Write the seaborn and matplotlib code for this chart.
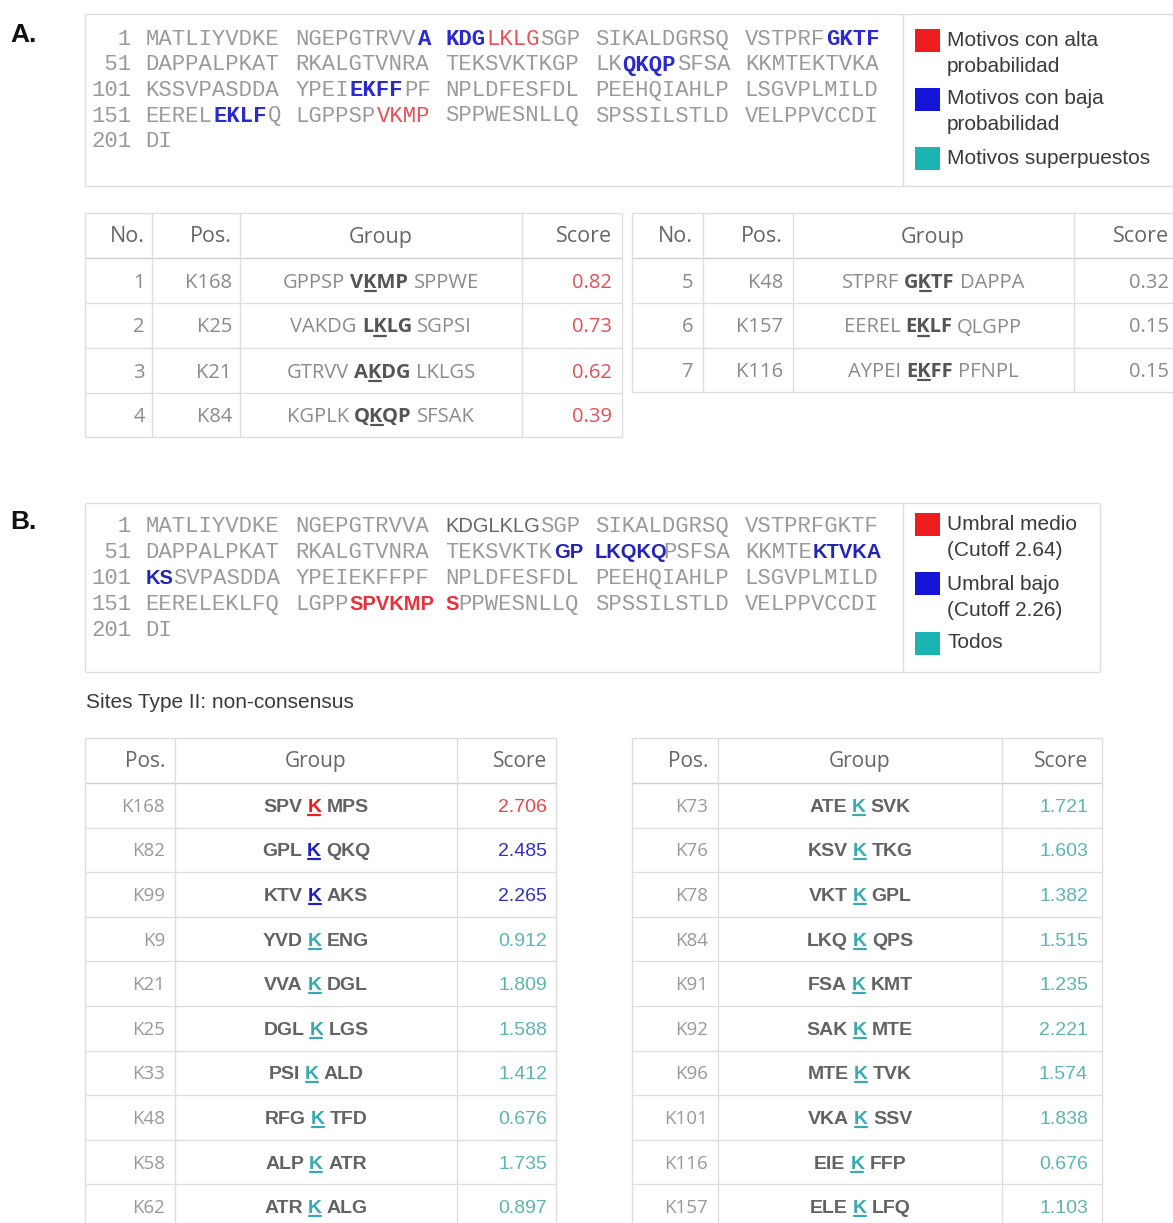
import matplotlib
matplotlib.use("Agg")
import matplotlib.pyplot as plt
import seaborn as sns
from matplotlib.patches import Rectangle

# ---------------- data ----------------
sequence = ("MATLIYVDKENGEPGTRVVAKDGLKLGSGPSIKALDGRSQVSTPRFGKTF"
            "DAPPALPKATRKALGTVNRATEKSVKTKGPLKQKQPSFSAKKMTEKTVKA"
            "KSSVPASDDAYPEIEKFFPFNPLDFESFDLPEEHQIAHLPLSGVPLMILD"
            "EERELEKLFQLGPPSPVKMPSPPWESNLLQSPSSILSTLDVELPPVCCDI"
            "DI")
# highlighted residues (1-based, inclusive)
a_highlights = [(20, 23, "low"), (24, 27, "high"), (47, 50, "low"), (83, 86, "low"),
                (115, 118, "low"), (156, 159, "low"), (167, 170, "high")]
b_highlights = [(21, 27, "dark"), (79, 85, "low"), (96, 102, "low"), (165, 171, "high")]

a_legend = ["Motivos con alta\nprobabilidad", "Motivos con baja\nprobabilidad", "Motivos superpuestos"]
b_cutoffs = [2.64, 2.26]
b_legend = [f"Umbral medio\n(Cutoff {b_cutoffs[0]:.2f})", f"Umbral bajo\n(Cutoff {b_cutoffs[1]:.2f})", "Todos"]

a_no = [1, 2, 3, 4, 5, 6, 7]
a_pos = ["K168", "K25", "K21", "K84", "K48", "K157", "K116"]
a_left = ["GPPSP", "VAKDG", "GTRVV", "KGPLK", "STPRF", "EEREL", "AYPEI"]
a_motif = ["VKMP", "LKLG", "AKDG", "QKQP", "GKTF", "EKLF", "EKFF"]
a_right = ["SPPWE", "SGPSI", "LKLGS", "SFSAK", "DAPPA", "QLGPP", "PFNPL"]
a_score = [0.82, 0.73, 0.62, 0.39, 0.32, 0.15, 0.15]
a_high_n = 4  # first rows in red

b1_pos = ["K168", "K82", "K99", "K9", "K21", "K25", "K33", "K48", "K58", "K62"]
b1_left = ["SPV", "GPL", "KTV", "YVD", "VVA", "DGL", "PSI", "RFG", "ALP", "ATR"]
b1_right = ["MPS", "QKQ", "AKS", "ENG", "DGL", "LGS", "ALD", "TFD", "ATR", "ALG"]
b1_score = [2.706, 2.485, 2.265, 0.912, 1.809, 1.588, 1.412, 0.676, 1.735, 0.897]

b2_pos = ["K73", "K76", "K78", "K84", "K91", "K92", "K96", "K101", "K116", "K157"]
b2_left = ["ATE", "KSV", "VKT", "LKQ", "FSA", "SAK", "MTE", "VKA", "EIE", "ELE"]
b2_right = ["SVK", "TKG", "GPL", "QPS", "KMT", "MTE", "TVK", "SSV", "FFP", "LFQ"]
b2_score = [1.721, 1.603, 1.382, 1.515, 1.235, 2.221, 1.574, 1.838, 0.676, 1.103]

# ---------------- style ----------------
sns.set_theme(style="white")
plt.rcParams['font.family'] = ['Liberation Sans', 'DejaVu Sans']

RED, BLUE, CYAN = "#ee1c1c", "#1414d8", "#1ab4b4"
SEQ_GRAY = "#9a9a9a"
GRID = "#dedede"
TXT = "#3a3a3a"

W, H = 1173, 1223
fig = plt.figure(figsize=(W / 100, H / 100), dpi=100)
ax = fig.add_axes([0, 0, 1, 1])
ax.set_xlim(0, W)
ax.set_ylim(H, 0)
ax.axis("off")
renderer = fig.canvas.get_renderer()


def tw(s, **kw):
    if not s:
        return 0.0
    t = ax.text(0, 0, s, **kw)
    w = t.get_window_extent(renderer).width
    t.remove()
    return w


def hline(x1, x2, y, c=GRID, lw=1.0):
    ax.plot([x1, x2], [y, y], color=c, lw=lw, solid_capstyle="butt")


def vline(x, y1, y2, c=GRID, lw=1.0):
    ax.plot([x, x], [y1, y2], color=c, lw=lw, solid_capstyle="butt")


# ---------------- panel labels ----------------
ax.text(10, 35, "A.", fontsize=19, fontweight="bold", color="#111", va="center")
ax.text(10, 522, "B.", fontsize=19, fontweight="bold", color="#111", va="center")

# ---------------- sequences ----------------
MONO = "Liberation Mono"
FS_MONO = 16.0
X0, CW = 91.0, 13.62


def style_at(pos, highlights):
    for a, b, s in highlights:
        if a <= pos <= b:
            return s
    return "n"


def draw_sequence(highlights, base_y, dy, smap):
    for li in range(0, len(sequence), 50):
        y = base_y + (li // 50) * dy
        ax.text(X0, y, f"{li + 1:>3}", fontfamily=MONO, fontsize=FS_MONO,
                color=SEQ_GRAY, va="baseline", ha="left")
        for b in range(5):
            start = li + b * 10
            if start >= len(sequence):
                break
            block = sequence[start:start + 10]
            i = 0
            while i < len(block):
                st = style_at(start + i + 1, highlights)
                j = i
                while j < len(block) and style_at(start + j + 1, highlights) == st:
                    j += 1
                x = X0 + (4 + 11 * b + i) * CW
                ax.text(x, y, block[i:j], va="baseline", ha="left", **smap[st])
                i = j


a_smap = {
    "n": dict(fontfamily=MONO, fontsize=FS_MONO, color=SEQ_GRAY),
    "low": dict(fontfamily=MONO, fontsize=FS_MONO, color="#2a2ad0", fontweight="bold"),
    "high": dict(fontfamily=MONO, fontsize=FS_MONO, color="#e8505a"),
}
b_smap = {
    "n": dict(fontfamily=MONO, fontsize=FS_MONO, color=SEQ_GRAY),
    "low": dict(fontfamily="Liberation Sans", fontsize=14.5, color="#2424b4", fontweight="bold"),
    "high": dict(fontfamily="Liberation Sans", fontsize=14.5, color="#e8303c", fontweight="bold"),
    "dark": dict(fontfamily="Liberation Sans", fontsize=14.5, color="#666666"),
}

# boxes
hline(85, W, 14); hline(85, W, 186); vline(85, 14, 186); vline(903, 14, 186)
draw_sequence(a_highlights, 45, 25.5, a_smap)

hline(85, 1100, 503); hline(85, 1100, 672); vline(85, 503, 672); vline(1100, 503, 672)
vline(903, 503, 672)
draw_sequence(b_highlights, 532, 26, b_smap)


# ---------------- legends ----------------
def draw_legend(labels, sq_y, txt_y, top):
    cols = [RED, BLUE, CYAN]
    for k, lab in enumerate(labels):
        ax.add_patch(Rectangle((915, top + sq_y[k]), 25, 23, color=cols[k], lw=0))
        for m, line in enumerate(lab.split("\n")):
            ax.text(947, top + txt_y[k] + m * 26, line, fontsize=15, color=TXT,
                    va="center", ha="left", fontfamily="Liberation Sans")


draw_legend(a_legend, [15, 74, 133], [26, 85, 144], 14)
draw_legend(b_legend, [10, 69, 129], [22, 81, 140], 503)

ax.text(86, 703, "Sites Type II: non-consensus", fontsize=15, color=TXT,
        va="center", ha="left", fontfamily="Liberation Sans")


# ---------------- rich centered text ----------------
def draw_rich(xc, y, parts, gap):
    widths = [tw(p[0], **p[1]) for p in parts]
    total = sum(widths) + gap * (len(parts) - 1)
    x = xc - total / 2
    for (s, kw, ui, uc), w in zip(parts, widths):
        ax.text(x, y, s, ha="left", va="baseline", **kw)
        if ui is not None:
            x1 = x + tw(s[:ui], **kw)
            x2 = x + tw(s[:ui + 1], **kw)
            ax.plot([x1 + 1, x2 - 1], [y + 3, y + 3], color=uc, lw=1.6)
        x += w + gap


def grid(xe, ye, header_c="#d0d0d0"):
    for i, y in enumerate(ye):
        hline(xe[0], xe[-1], y, c=header_c if i == 1 else GRID)
    for x in xe:
        vline(x, ye[0], ye[-1])


# ---------------- table A ----------------
OPEN = "Open Sans"
FS_A = 14.5
HDR = "#666666"
CELL = "#8a8a8a"


def table_a(rows, xe, ye, anchors):
    grid(xe, ye)
    hy = (ye[0] + ye[1]) / 2 + 7
    for txt, (xa, ha) in zip(["No.", "Pos.", "Group", "Score"], anchors):
        ax.text(xa, hy, txt, fontfamily=OPEN, fontsize=FS_A + 1, color=HDR, ha=ha, va="baseline")
    for r, i in enumerate(rows):
        y = (ye[r + 1] + ye[r + 2]) / 2 + 7
        ax.text(anchors[0][0], y, str(a_no[i]), fontfamily=OPEN, fontsize=FS_A, color=CELL, ha="right", va="baseline")
        ax.text(anchors[1][0], y, a_pos[i], fontfamily=OPEN, fontsize=FS_A, color=CELL, ha="right", va="baseline")
        norm = dict(fontfamily=OPEN, fontsize=FS_A, color=CELL)
        bold = dict(fontfamily=OPEN, fontsize=FS_A, color="#555555", fontweight="bold")
        draw_rich(anchors[2][0], y, [(a_left[i], norm, None, None),
                                     (a_motif[i], bold, 1, "#555555"),
                                     (a_right[i], norm, None, None)], 5)
        col = "#e0505a" if i < a_high_n else CELL
        ax.text(anchors[3][0], y, f"{a_score[i]:.2f}", fontfamily=OPEN, fontsize=FS_A, color=col, ha="right", va="baseline")


table_a([0, 1, 2, 3], [85, 152, 240, 522, 622], [213, 258, 303, 348, 393, 437],
        [(145, "right"), (232, "right"), (381, "center"), (612, "right")])
table_a([4, 5, 6], [632, 703, 793, 1074, 1185], [213, 258, 303, 348, 392],
        [(693, "right"), (783, "right"), (933, "center"), (1169, "right")])

# ---------------- table B ----------------
FS_B = 13.5


def score_color(v):
    if v >= b_cutoffs[0]:
        return ("#e8474f", RED)
    if v >= b_cutoffs[1]:
        return ("#3030c0", "#2020c0")
    return ("#5fb3b3", "#3aaab0")


def table_b(pos, left, right, score, xe, anchors):
    ye = [738, 783] + [783 + 44.6 * (k + 1) for k in range(len(pos))]
    grid(xe, ye)
    hy = 760 + 7
    for txt, (xa, ha) in zip(["Pos.", "Group", "Score"], anchors):
        ax.text(xa, hy, txt, fontfamily=OPEN, fontsize=FS_B + 1.5, color=HDR, ha=ha, va="baseline")
    for i in range(len(pos)):
        y = (ye[i + 1] + ye[i + 2]) / 2 + 6.5
        tc, kc = score_color(score[i])
        ax.text(anchors[0][0], y, pos[i], fontfamily=OPEN, fontsize=FS_B, color="#999999", ha="right", va="baseline")
        g = dict(fontfamily="Liberation Sans", fontsize=FS_B + 0.5, color="#636363", fontweight="bold")
        k = dict(fontfamily="Liberation Sans", fontsize=FS_B + 0.5, color=kc, fontweight="bold")
        draw_rich(anchors[1][0], y, [(left[i], g, None, None), ("K", k, 0, kc), (right[i], g, None, None)], 5)
        ax.text(anchors[2][0], y, f"{score[i]:.3f}", fontfamily="Liberation Sans", fontsize=FS_B + 0.5,
                color=tc, ha="right", va="baseline")


table_b(b1_pos, b1_left, b1_right, b1_score, [85, 175, 457, 556],
        [(165, "right"), (316, "center"), (547, "right")])
table_b(b2_pos, b2_left, b2_right, b2_score, [632, 718, 1002, 1102],
        [(708, "right"), (860, "center"), (1088, "right")])

fig.savefig("out.png", dpi=100)
